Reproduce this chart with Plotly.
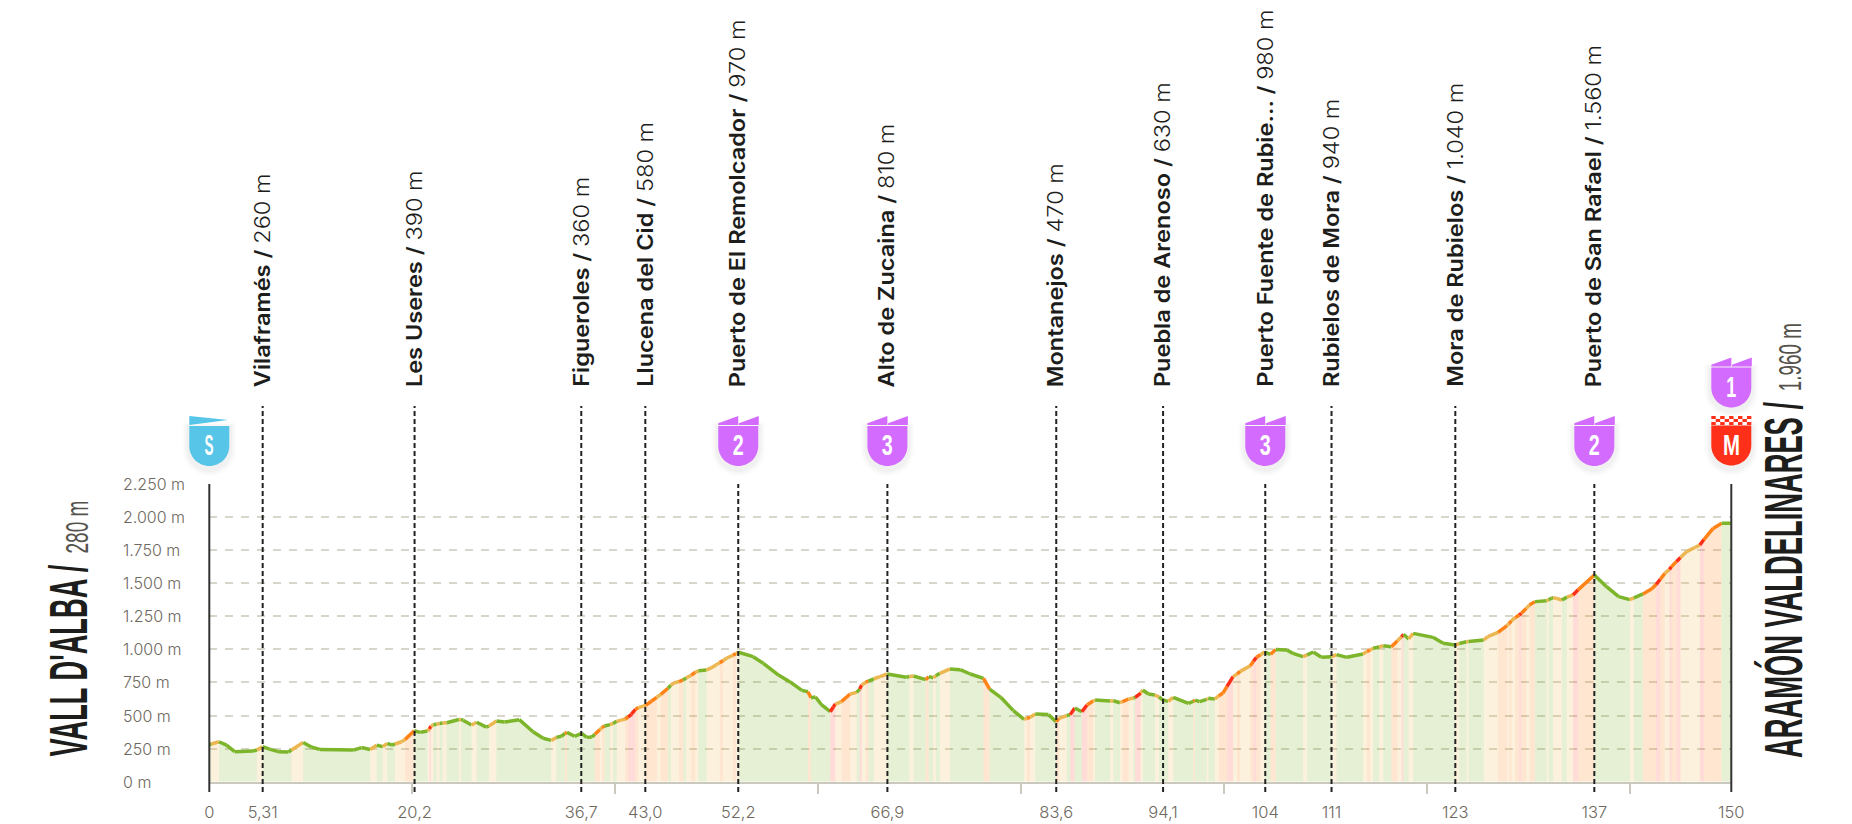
import plotly.graph_objects as go

W, H = 1852, 824
LEFT, RIGHT, BOTTOM, TOP = 209.3, 1731.3, 781.7, 484.0

# profile points: km, metres, grade of the stretch ending at each point
km = [0, 0.2, 0.95, 1.7, 2.5, 4.3, 4.7, 5.25, 6.0, 6.8,
      7.8, 8.1, 9.25, 10.1, 10.9, 14.2, 15.0, 15.85, 16.5, 17.1,
      17.55, 18.0, 18.3, 18.95, 19.3, 20.2, 20.8, 21.5, 21.7, 21.85,
      22.1, 22.4, 22.7, 23.0, 23.4, 24.6, 24.8, 25.0, 25.85, 26.1,
      26.35, 27.3, 27.55, 28.3, 29.1, 30.55, 31.9, 32.9, 33.7, 34.2,
      34.7, 35.05, 35.25, 36.0, 36.7, 37.2, 37.7, 38.0, 38.5, 38.7,
      38.95, 39.5, 39.8, 40.15, 40.6, 41.0, 41.3, 41.6, 42.0, 42.3,
      43.0, 43.6, 44.1, 44.5, 45.2, 45.5, 45.75, 46.3, 46.7, 47.0,
      47.5, 47.9, 48.2, 49.0, 49.5, 50.0, 50.3, 50.65, 51.0, 51.6,
      51.9, 52.15, 53.6, 54.6, 56.1, 57.2, 58.4, 59.0, 59.3, 59.75,
      60.35, 61.2, 61.5, 61.7, 62.3, 63.15, 63.8, 64.1, 64.3, 64.7,
      64.95, 65.5, 66.1, 66.8, 68.7, 69.0, 69.4, 70.6, 70.9, 71.35,
      71.6, 72.0, 73.0, 74.0, 75.0, 76.3, 76.9, 78.0, 79.25, 80.3,
      80.6, 80.9, 81.4, 82.7, 83.45, 83.75, 84.5, 84.85, 85.3, 86.0,
      86.5, 87.1, 87.3, 88.8, 89.1, 89.75, 90.0, 90.6, 91.1, 91.25,
      91.8, 92.0, 92.55, 93.2, 93.6, 94.0, 94.5, 95.0, 96.5, 97.0,
      97.15, 97.6, 98.3, 98.45, 99.1, 99.5, 99.9, 100.3, 100.9, 101.3,
      101.6, 102.6, 102.9, 103.2, 103.6, 104.0, 104.6, 105.1, 106.2, 106.8,
      107.8, 108.2, 108.8, 109.6, 110.6, 111.1, 112.1, 113.7, 114.1, 114.4,
      114.7, 115.3, 115.7, 116.5, 117.1, 117.5, 117.7, 118.2, 118.65, 120.6,
      121.6, 122.8, 123.2, 123.9, 124.1, 125.6, 126.0, 127.0, 127.9, 128.1,
      128.35, 128.7, 129.1, 129.3, 129.8, 130.1, 130.65, 131.8, 132.0, 132.3,
      132.45, 132.8, 133.3, 133.8, 134.4, 134.9, 136.5, 137.7, 138.9, 140.0,
      140.4, 141.3, 142.2, 142.6, 143.0, 143.45, 143.9, 144.1, 144.6, 145.0,
      145.6, 146.4, 146.9, 147.3, 148.2, 149.05, 150]
elev = [280, 285, 302, 277, 227, 232, 239, 265, 244, 227,
        224, 239, 297, 260, 244, 239, 258, 244, 275, 265,
        290, 277, 285, 302, 320, 385, 373, 383, 400, 420,
        430, 436, 440, 443, 446, 470, 471, 465, 428, 440,
        449, 413, 420, 459, 451, 469, 378, 328, 312, 335,
        343, 365, 373, 343, 365, 335, 338, 358, 395, 410,
        421, 431, 440, 456, 465, 474, 490, 510, 547, 560,
        577, 610, 638, 660, 706, 730, 745, 757, 769, 785,
        805, 827, 838, 844, 862, 885, 900, 915, 935, 955,
        968, 978, 945, 895, 806, 756, 690, 680, 635, 640,
        580, 529, 565, 587, 605, 663, 675, 700, 731, 752,
        761, 778, 794, 814, 789, 795, 799, 771, 794, 786,
        800, 819, 852, 847, 814, 781, 700, 638, 537, 471,
        480, 486, 512, 507, 454, 478, 500, 507, 557, 529,
        580, 610, 617, 610, 612, 597, 605, 625, 632, 638,
        670, 693, 663, 655, 640, 617, 607, 638, 592, 608,
        617, 605, 622, 630, 625, 650, 670, 720, 794, 815,
        834, 877, 910, 940, 960, 980, 963, 1000, 995, 970,
        945, 958, 980, 940, 945, 960, 940, 965, 985, 995,
        1008, 1018, 1028, 1020, 1065, 1095, 1114, 1079, 1121, 1091,
        1046, 1033, 1045, 1058, 1060, 1071, 1096, 1129, 1180, 1195,
        1217, 1240, 1260, 1273, 1310, 1335, 1361, 1368, 1375, 1388,
        1391, 1385, 1373, 1395, 1411, 1450, 1562, 1474, 1399, 1376,
        1390, 1419, 1460, 1492, 1530, 1575, 1605, 1625, 1665, 1695,
        1739, 1770, 1789, 1830, 1914, 1954, 1954]
grade = ("g" "y" "g" "g" "g" "g" "y" "g" "g"
         "g" "g" "y" "g" "g" "g" "g" "g" "y" "g"
         "y" "g" "g" "y" "y" "o" "g" "g" "y" "r"
         "y" "g" "y" "g" "y" "g" "y" "g" "g" "y"
         "y" "g" "g" "y" "g" "g" "g" "g" "g" "y"
         "g" "g" "o" "g" "g" "g" "g" "g" "o" "y"
         "o" "g" "y" "g" "y" "y" "o" "r" "r" "o"
         "y" "o" "o" "y" "o" "g" "y" "y" "o" "g"
         "y" "o" "y" "g" "y" "y" "y" "o" "y" "y"
         "o" "y" "g" "g" "g" "g" "g" "g" "o" "g"
         "g" "g" "r" "r" "y" "o" "y" "g" "r" "y"
         "o" "g" "y" "y" "g" "g" "y" "g" "o" "g"
         "y" "g" "y" "g" "g" "g" "o" "g" "g" "g"
         "y" "o" "y" "g" "g" "o" "y" "g" "r" "g"
         "r" "o" "y" "g" "y" "g" "y" "o" "y" "g"
         "r" "y" "g" "g" "y" "g" "g" "y" "g" "g"
         "o" "g" "g" "y" "g" "y" "o" "o" "r" "y"
         "o" "y" "o" "r" "o" "y" "g" "o" "g" "g"
         "g" "y" "g" "g" "g" "y" "g" "g" "y" "o"
         "y" "g" "y" "g" "o" "y" "r" "g" "y" "g"
         "g" "g" "y" "g" "y" "g" "y" "y" "o" "y"
         "o" "y" "o" "r" "o" "y" "o" "g" "y" "g"
         "g" "y" "y" "g" "y" "r" "o" "g" "g" "g"
         "y" "g" "o" "o" "r" "o" "y" "r" "o" "r"
         "y" "y" "y" "r" "o" "o" "g")

# places along the stage
pass_km = [5.26, 20.23, 36.66, 42.97, 52.13, 66.83, 83.47, 94.0, 104.07, 110.6, 122.8, 136.5]
pass_name = ["Vilaframés", "Les Useres", "Figueroles", "Llucena del Cid", "Puerto de El Remolcador",
             "Alto de Zucaina", "Montanejos", "Puebla de Arenoso", "Puerto Fuente de Rubie...",
             "Rubielos de Mora", "Mora de Rubielos", "Puerto de San Rafael"]
pass_alt = ["260 m", "390 m", "360 m", "580 m", "970 m", "810 m", "470 m", "630 m", "980 m",
            "940 m", "1.040 m", "1.560 m"]
km_labels = ["5,31", "20,2", "36,7", "43,0", "52,2", "66,9", "83,6", "94,1", "104", "111", "123", "137"]
km_ticks20 = [20, 40, 60, 80, 100, 120, 140]

alt_ticks = [0, 250, 500, 750, 1000, 1250, 1500, 1750, 2000, 2250]
alt_labels = ["0 m", "250 m", "500 m", "750 m", "1.000 m", "1.250 m", "1.500 m", "1.750 m", "2.000 m", "2.250 m"]

cat_km = [52.13, 66.83, 104.07, 136.5]
cat_label = ["2", "3", "3", "2"]

LINE = {"g": "#7cb52a", "y": "#ecb650", "o": "#ff8316", "r": "#ff2e16"}
FILL = {"g": "rgba(124,181,42,0.2)", "y": "rgba(240,185,80,0.2)",
        "o": "rgba(255,131,22,0.2)", "r": "rgba(255,46,22,0.17)"}
PURPLE, BLUE, RED = "#d36bff", "#56c5e8", "#ff3019"
NARROW = "Liberation Sans"
ROUND = "Inter"
TXT = "#6e695f"


def px(x):
    return x / W


def py(y):
    return 1 - y / H


def km_x(k):
    return px(LEFT + k * (RIGHT - LEFT) / 150)


fig = go.Figure()
for i in range(len(grade)):
    g = grade[i]
    fig.add_trace(go.Scatter(x=km[i:i + 2], y=elev[i:i + 2], mode="lines",
                             line=dict(color=LINE[g], width=3.5), fill="tozeroy",
                             fillcolor=FILL[g], hoverinfo="skip", showlegend=False))

shapes = []
annotations = []


def add_text(text, x, y, size, color="#1d1d1b", angle=0, family=NARROW, weight="normal", xref="paper", yref="paper", xanchor="center", yanchor="middle"):
    annotations.append(dict(text=text, x=x, y=y, xref=xref, yref=yref, showarrow=False, textangle=angle,
                            xanchor=xanchor, yanchor=yanchor,
                            font=dict(family=family, size=size, color=color, weight=weight)))


def vline(x, y_top, color="#222222", dash="5px,3px"):
    shapes.append(dict(type="line", xref="paper", yref="paper", x0=km_x(x), x1=km_x(x), y0=py(792), y1=py(y_top),
                       line=dict(color=color, width=2, dash=dash), layer="above"))


def shield(x, top, color, flag_paths, label):
    body = "M-20,0 L20,0 L20,-20 C20,-31 11,-40 0,-40 C-11,-40 -20,-31 -20,-20 Z"
    for grow, alpha in [(7, 0.012), (5, 0.018), (3, 0.025)]:
        k = 1 + grow / 20
        soft = f"M{-20 * k},{-3 + grow} L{20 * k},{-3 + grow} L{20 * k},-22 C{20 * k},{-33 - grow} {11 * k},{-43 - grow} 0,{-43 - grow} C{-11 * k},{-43 - grow} {-20 * k},{-33 - grow} {-20 * k},-22 Z"
        shapes.append(dict(type="path", xref="paper", yref="paper", xsizemode="pixel", ysizemode="pixel",
                           xanchor=km_x(x), yanchor=py(top), path=soft, fillcolor=f"rgba(0,0,0,{alpha})",
                           line=dict(width=0), layer="above"))
    for path in [body] + flag_paths:
        shapes.append(dict(type="path", xref="paper", yref="paper", xsizemode="pixel", ysizemode="pixel",
                           xanchor=km_x(x), yanchor=py(top), path=path, fillcolor=color,
                           line=dict(width=0), layer="above"))
    add_text(label, x, py(top + 18.5), 30, color="white", weight="bold", xref="x")


MOUNTAIN = ["M-20,1 L-20,2.7 L0,10 L0,1 Z", "M0.7,1 L0.7,2.7 L20.5,10 L20.5,1 Z"]
START = ["M-20,1 L-20,10 L18.7,6 Z"]
checks = []
for row in range(3):
    for col in range(9):
        if (row + col) % 2 == 0:
            x0 = -20 + col * 4.45
            y0 = 0.5 + row * 3
            checks.append(f"M{x0},{y0} L{x0 + 4.45},{y0} L{x0 + 4.45},{y0 + 3} L{x0},{y0 + 3} Z")

for x, name, alt in zip(pass_km, pass_name, pass_alt):
    vline(x, 484 if x in cat_km else 406)
    add_text(f"{name} / <span style='font-weight:300'>{alt}</span>", x, py(389), 21, angle=-90,
             family=ROUND, weight=600, xref="x", yanchor="bottom")

for x in [0, 150]:
    shapes.append(dict(type="line", xref="paper", yref="paper", x0=km_x(x), x1=km_x(x), y0=py(792), y1=py(484),
                       line=dict(color="#333333", width=2), layer="above"))

shield(0, 426, BLUE, START, "S")
for x, label in zip(cat_km, cat_label):
    shield(x, 426, PURPLE, MOUNTAIN, label)
shield(150, 367.5, PURPLE, MOUNTAIN, "1")
shield(150, 425.5, RED, checks, "M")

for v, label in zip(alt_ticks, alt_labels):
    add_text(label, px(121), v, 16, color=TXT, family=ROUND, weight=300, yref="y", xanchor="left")

# long titles are squeezed to their real length afterwards, see post_script
add_text("VALL D'ALBA /", px(68), py(661), 54, angle=-90, weight="bold")
add_text("280 m", px(76), py(527.5), 32, color="#55524c", angle=-90)
add_text("ARAMÓN VALDELINARES /", px(1783), py(580), 54, angle=-90, weight="bold")
add_text("1.960 m", px(1790), py(357), 32, color="#55524c", angle=-90)

fig.update_layout(
    width=W, height=H, margin=dict(l=0, r=0, t=0, b=0, autoexpand=False),
    paper_bgcolor="white", plot_bgcolor="white", showlegend=False,
    shapes=shapes, annotations=annotations,
    xaxis=dict(domain=[px(LEFT), px(RIGHT)], range=[0, 150], showgrid=False, zeroline=False,
               showline=True, linecolor="#cbc8bd", linewidth=2,
               tickmode="array", tickvals=[0] + pass_km + [150], ticktext=["0"] + km_labels + ["150"],
               ticks="outside", ticklen=14, tickcolor="rgba(0,0,0,0)",
               tickfont=dict(family=ROUND, size=16.5, color=TXT, weight=300),
               minor=dict(tickmode="array", tickvals=km_ticks20, ticks="outside", ticklen=10,
                          tickcolor="#cbc8bd", tickwidth=2)),
    yaxis=dict(domain=[py(BOTTOM), py(TOP)], range=[0, 2250], tickmode="array", tickvals=alt_ticks,
               showticklabels=False, zeroline=False, showline=False,
               showgrid=True, gridcolor="#d8d5cb", gridwidth=1.5, griddash="8px,8px"),
)

squeeze = """
document.body.style.margin = '0';
var lengths = {"VALL D'ALBA /": 192, "280 m": 53, "ARAMÓN VALDELINARES /": 356, "1.960 m": 68,
               "S": 9, "1": 10, "2": 11, "3": 11, "M": 17};
document.querySelectorAll('.annotation-text').forEach(function (t) {
    var n = lengths[t.textContent];
    if (n) { t.setAttribute('textLength', n); t.setAttribute('lengthAdjust', 'spacingAndGlyphs'); }
    else if (t.textContent.indexOf(' / ') > 0) {
        var len = t.getComputedTextLength();
        t.setAttribute('textLength', len * 1.12);
        t.setAttribute('lengthAdjust', 'spacingAndGlyphs');
        // keep the foot of the label where it was
        t.setAttribute('x', parseFloat(t.getAttribute('x')) + len * 0.06);
    }
});
"""
fig.write_html("out.html", post_script=squeeze, config={"displayModeBar": False})
